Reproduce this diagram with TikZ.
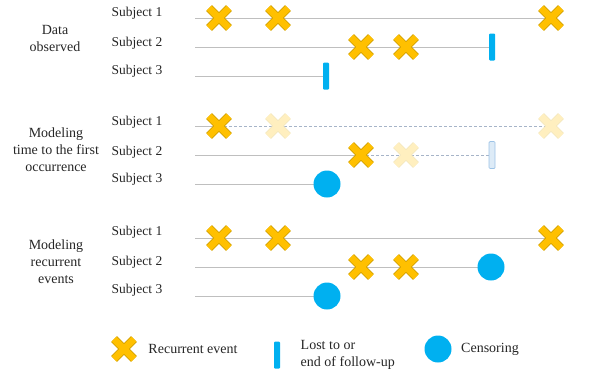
\documentclass[tikz,border=0pt]{standalone}
\usepackage{fontspec}
\setmainfont{Liberation Serif}
\usepackage{tikz}
\usetikzlibrary{shapes.misc,positioning,backgrounds}

\definecolor{evtfill}{HTML}{FFC000}
\definecolor{evtline}{HTML}{D4A200}
\definecolor{censblue}{HTML}{00B0F0}
\definecolor{tlgray}{HTML}{BFBFBF}
\definecolor{dashgray}{HTML}{A6B4C8}
\definecolor{lostpale}{HTML}{DDEBF7}
\definecolor{lostedge}{HTML}{9DC3E6}

\begin{document}
\begin{tikzpicture}[x=1pt, y=-1pt, every node/.style={font=\fontsize{14}{17}\selectfont, text=black!85}]
    \tikzstyle{evt} = [cross out, draw=evtline, double=evtfill, double distance=6.5pt,
        line width=0.9pt, minimum size=19pt, inner sep=0pt]
    \tikzstyle{evtpale} = [evt, draw=evtline!25, double=evtfill!25]
    \tikzstyle{lost} = [rectangle, rounded corners=1pt, fill=censblue, minimum width=6pt,
        minimum height=27pt, inner sep=0pt]
    \tikzstyle{lostpale} = [lost, fill=lostpale, draw=lostedge, line width=0.7pt]
    \tikzstyle{cens} = [circle, fill=censblue, minimum size=27pt, inner sep=0pt]
    \tikzstyle{subj} = [font=\fontsize{13.5}{16}\selectfont]
    \tikzstyle{panel} = [align=center]
    \tikzstyle{tl} = [tlgray, line width=0.8pt]
    \tikzstyle{tlpale} = [dashgray, line width=0.8pt, dash pattern=on 2.5pt off 2.5pt]

    \useasboundingbox (0,0) rectangle (600,381);

    % data observed
    \node (obs) [panel] at (55,38) {Data\\observed};
    \node (obs1) [subj] at (137,13) {Subject 1};
    \node (obs2) [subj] at (137,43) {Subject 2};
    \node (obs3) [subj] at (137,71) {Subject 3};
    \coordinate (obs1s) at (195,18);
    \coordinate (obs2s) at (195,47);
    \coordinate (obs3s) at (195,76);
    \node (obs1a) [evt] at (219,18) {};
    \node (obs1b) [evt] at (278,18) {};
    \node (obs1c) [evt] at (551,18) {};
    \node (obs2a) [evt] at (361,47) {};
    \node (obs2b) [evt] at (406,47) {};
    \node (obs2end) [lost] at (492,47) {};
    \node (obs3end) [lost] at (326,76) {};

    % time to first occurrence
    \node (first) [panel] at (56,150) {Modeling\\time to the first\\occurrence};
    \node (first1) [subj] at (137,122) {Subject 1};
    \node (first2) [subj] at (137,152) {Subject 2};
    \node (first3) [subj] at (137,179) {Subject 3};
    \coordinate (first1s) at (195,126);
    \coordinate (first2s) at (195,155);
    \coordinate (first3s) at (195,184);
    \node (first1a) [evt] at (219,126) {};
    \node (first1b) [evtpale] at (278,126) {};
    \node (first1c) [evtpale] at (551,126) {};
    \node (first2a) [evt] at (361,155) {};
    \node (first2b) [evtpale] at (406,155) {};
    \node (first2end) [lostpale] at (492,155) {};
    \node (first3end) [cens] at (327,184) {};

    % recurrent events
    \node (rec) [panel] at (56,262) {Modeling\\recurrent\\events};
    \node (rec1) [subj] at (137,232) {Subject 1};
    \node (rec2) [subj] at (137,262) {Subject 2};
    \node (rec3) [subj] at (137,290) {Subject 3};
    \coordinate (rec1s) at (195,238);
    \coordinate (rec2s) at (195,267);
    \coordinate (rec3s) at (195,296);
    \node (rec1a) [evt] at (219,238) {};
    \node (rec1b) [evt] at (278,238) {};
    \node (rec1c) [evt] at (551,238) {};
    \node (rec2a) [evt] at (361,267) {};
    \node (rec2b) [evt] at (406,267) {};
    \node (rec2end) [cens] at (491,267) {};
    \node (rec3end) [cens] at (327,296) {};

    % legend
    \node (legevt) [evt] at (124,349) {};
    \node (legevttxt) [right=11pt of legevt] {Recurrent event};
    \node (leglost) [lost] at (277,355) {};
    \node (leglosttxt) [right=17pt of leglost, align=left] {Lost to or\\end of follow-up};
    \node (legcens) [cens] at (438,349) {};
    \node (legcenstxt) [right=6pt of legcens] {Censoring};

    \begin{scope}[on background layer]
        \draw [tl] (obs1s) -- (obs1c.center);
        \draw [tl] (obs2s) -- (obs2end.center);
        \draw [tl] (obs3s) -- (obs3end.center);
        \draw [tl] (first1s) -- (first1a.center);
        \draw [tlpale] (first1a.center) -- (first1c.center);
        \draw [tl] (first2s) -- (first2a.center);
        \draw [tlpale] (first2a.center) -- (first2end.center);
        \draw [tl] (first3s) -- (first3end.center);
        \draw [tl] (rec1s) -- (rec1c.center);
        \draw [tl] (rec2s) -- (rec2end.center);
        \draw [tl] (rec3s) -- (rec3end.center);
    \end{scope}
\end{tikzpicture}
\end{document}
